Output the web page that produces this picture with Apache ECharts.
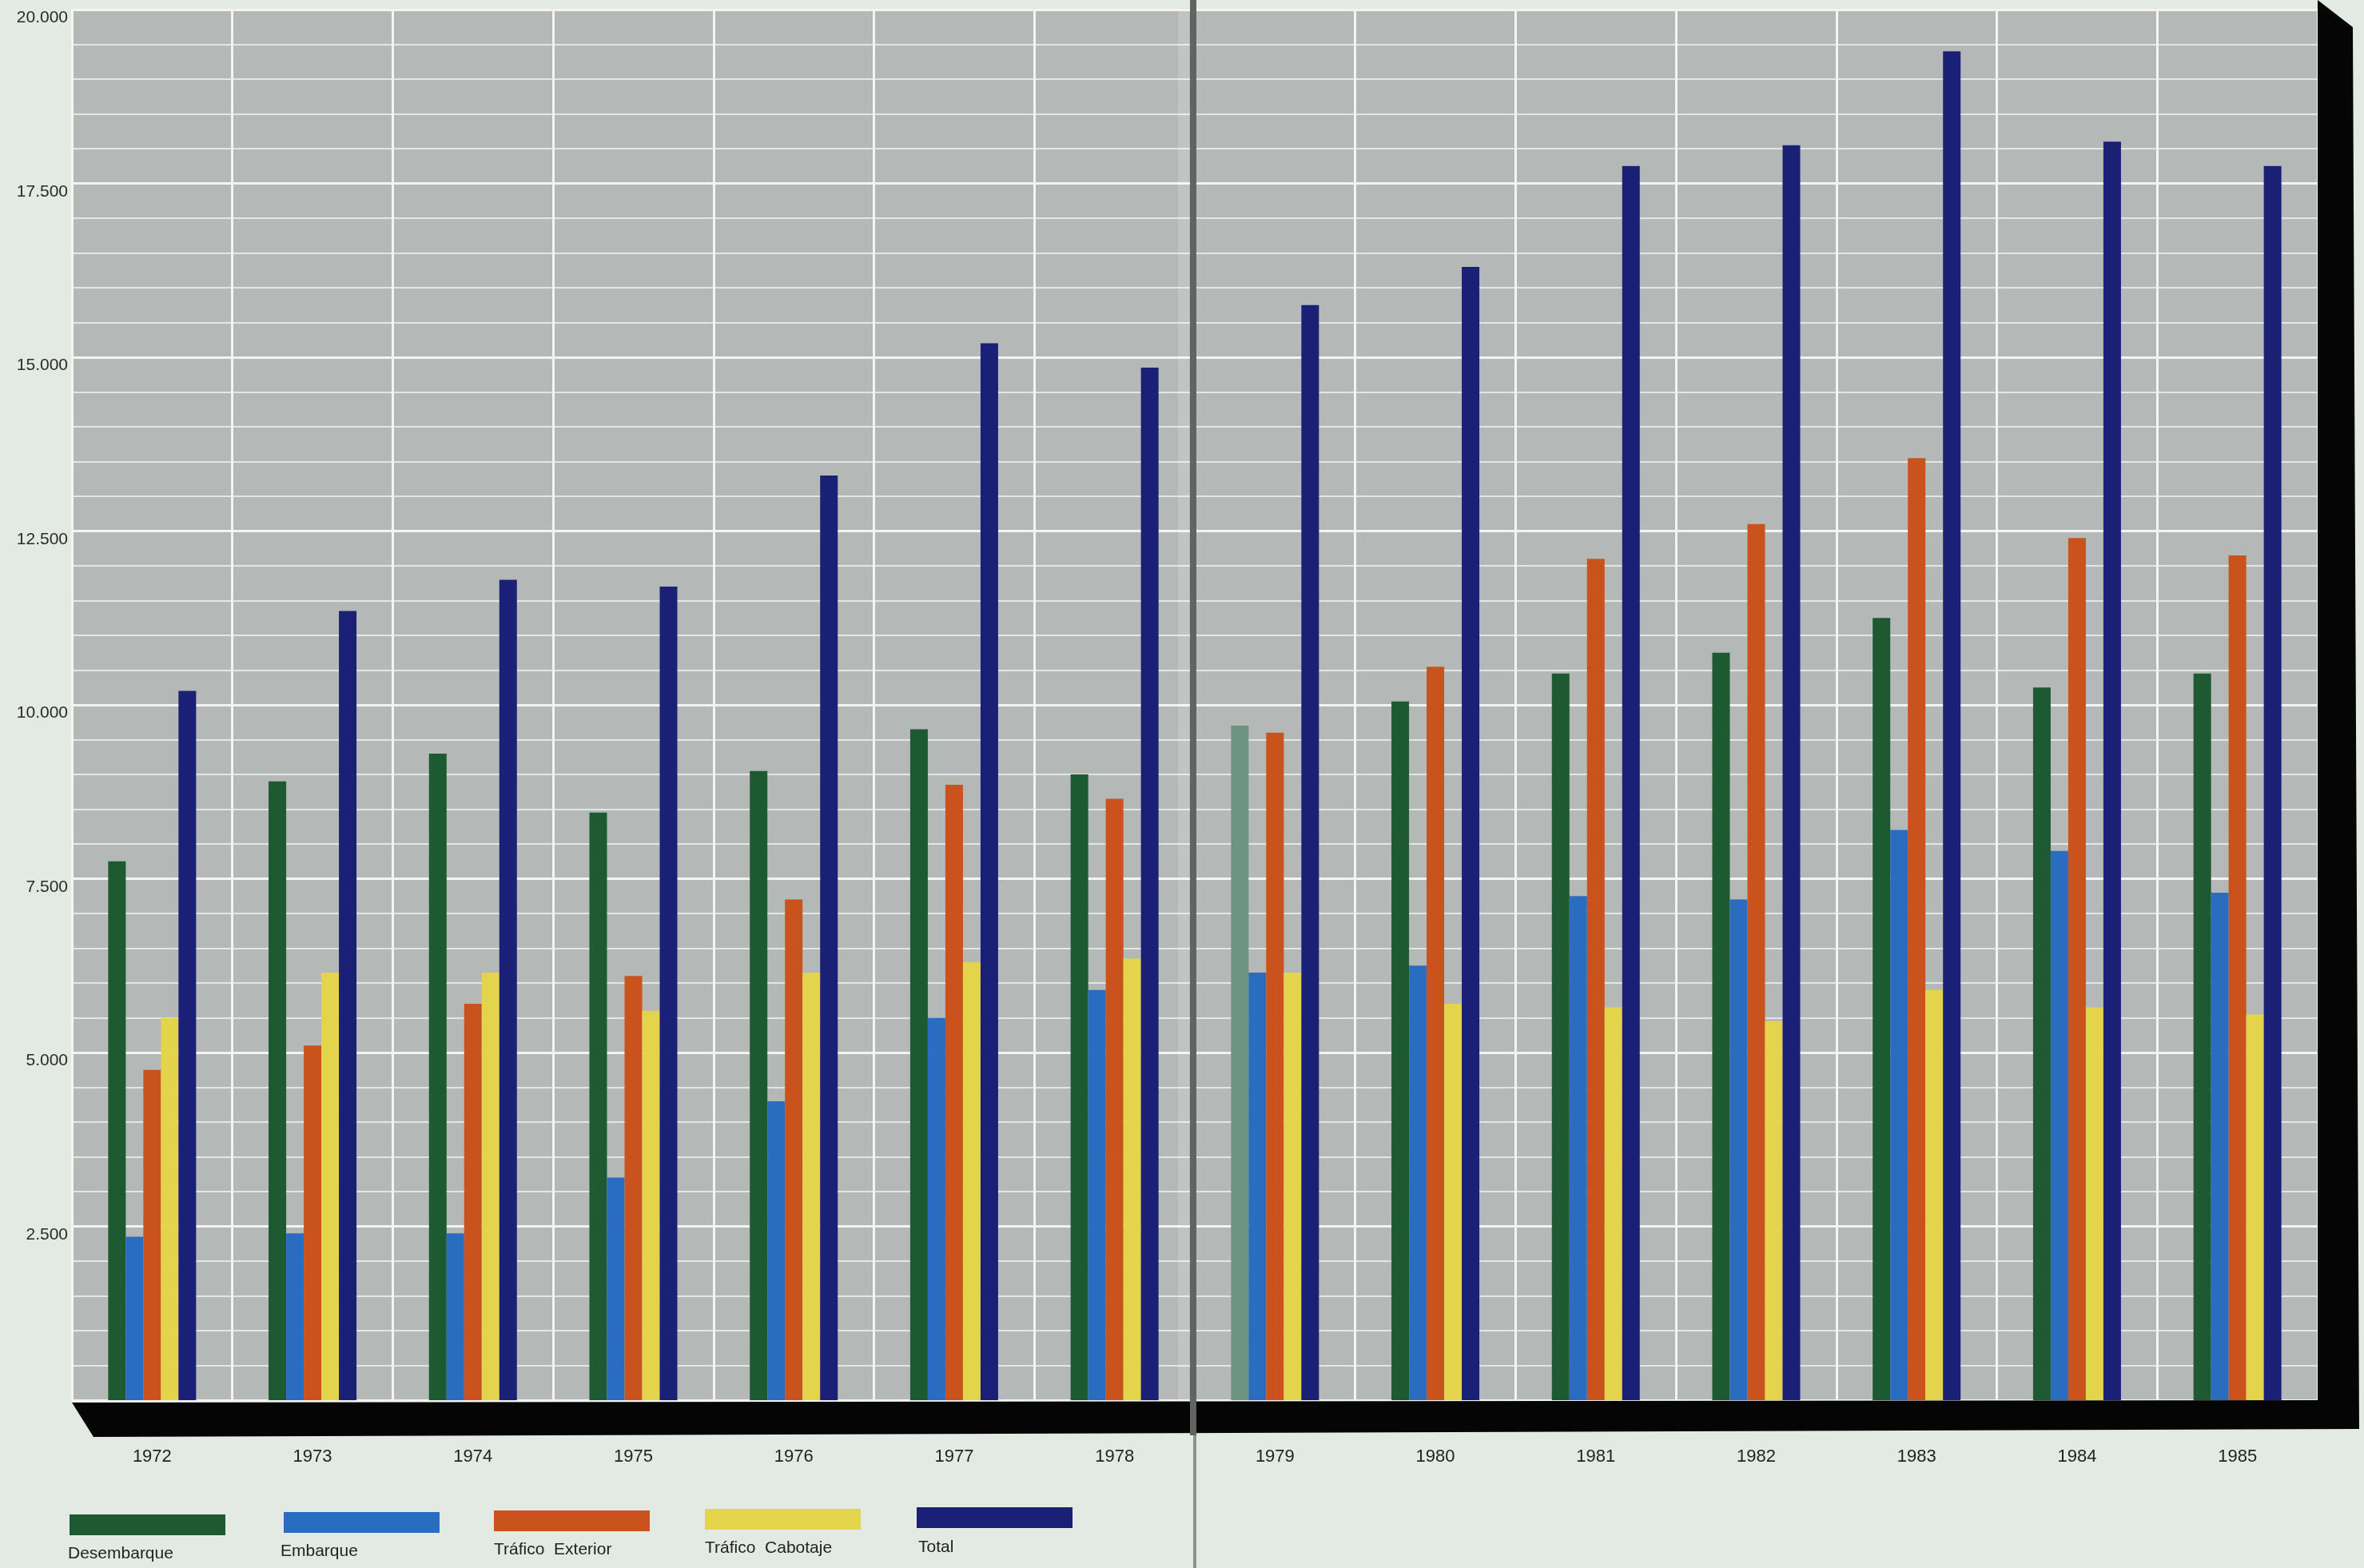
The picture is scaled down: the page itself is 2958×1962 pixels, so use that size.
<!DOCTYPE html>
<html>
<head>
<meta charset="utf-8">
<script src="https://cdn.jsdelivr.net/npm/echarts@6/dist/echarts.min.js"></script>
<style>
html,body{margin:0;padding:0;background:#e2eae3;}
#c{width:2958px;height:1962px;}
</style>
</head>
<body>
<div id="c"></div>
<script>
// ---- data ----
const years = ['1972','1973','1974','1975','1976','1977','1978','1979','1980','1981','1982','1983','1984','1985'];
const desembarque     = [7750, 8900, 9300, 8450, 9050, 9650, 9000, 9700, 10050, 10450, 10750, 11250, 10250, 10450];
const embarque        = [2350, 2400, 2400, 3200, 4300, 5500, 5900, 6150, 6250, 7250, 7200, 8200, 7900, 7300];
const traficoExterior = [4750, 5100, 5700, 6100, 7200, 8850, 8650, 9600, 10550, 12100, 12600, 13550, 12400, 12150];
const traficoCabotaje = [5500, 6150, 6150, 5600, 6150, 6300, 6350, 6150, 5700, 5650, 5450, 5900, 5650, 5550];
const total           = [10200, 11350, 11800, 11700, 13300, 15200, 14850, 15750, 16300, 17750, 18050, 19400, 18100, 17750];
const seriesNames = ['Desembarque', 'Embarque', 'Tráfico  Exterior', 'Tráfico  Cabotaje', 'Total'];
const yTickLabels = ['', '2.500', '5.000', '7.500', '10.000', '12.500', '15.000', '17.500', '20.000'];

// ---- layout / style ----
const W = 2958, H = 1962;
const L = 90, R = 2900, T = 12, B = 1752;
const colors = ['#1d5a32', '#2a6cbf', '#c9521d', '#e4d44c', '#1a2075'];
const paper = '#e2eae3';
const legendX = [87, 355, 618, 882, 1147];
const legendY = [1895, 1892, 1890, 1888, 1886];
const legendTextX = [85, 351, 618, 882, 1149];
const legendTextY = [1934, 1931, 1929, 1927, 1926];
const FONT = "'Liberation Sans', Arial, sans-serif";
const NARROW = "'Liberation Sans Narrow', 'Arial Narrow', 'Liberation Sans', Arial, sans-serif";

const chart = echarts.init(document.getElementById('c'), null, {renderer: 'canvas'});

const seriesData = [desembarque, embarque, traficoExterior, traficoCabotaje, total];

const series = seriesData.map((arr, i) => ({
  name: seriesNames[i],
  type: 'bar',
  barWidth: 22,
  barGap: '0%',
  itemStyle: {color: colors[i]},
  data: arr.map((v, j) => (i === 0 && years[j] === '1979')
    ? {value: v, itemStyle: {color: '#6e9383'}}
    : v)
}));

const legends = seriesNames.map((n, i) => ({
  data: [n],
  left: legendX[i],
  top: legendY[i],
  padding: 0,
  itemWidth: 195,
  itemHeight: 26,
  icon: 'rect',
  selectedMode: false,
  formatter: () => '',
  textStyle: {fontSize: 1}
}));

const legendTexts = seriesNames.map((n, i) => ({
  type: 'text',
  left: legendTextX[i],
  top: legendTextY[i],
  style: {text: n, fill: '#222', font: '21px ' + FONT}
}));

const frame = {
  type: 'polygon',
  z: 100,
  shape: {points: [
    [L, B + 3], [L + 27, B + 46], [R + 52, B + 36], [R + 44, 34], [R, 0], [R, B]
  ]},
  style: {fill: '#050505'}
};

const gutter = [
  {type: 'rect', z: 90, shape: {x: 1474, y: T, width: 14, height: B - T}, style: {fill: 'rgba(255,255,255,0.18)'}},
  {type: 'rect', z: 101, shape: {x: 1489, y: 0, width: 8, height: B + 44}, style: {fill: '#60655f'}},
  {type: 'rect', z: 101, shape: {x: 1493, y: B + 44, width: 4, height: H - B - 44}, style: {fill: '#8d928d'}}
];

chart.setOption({
  backgroundColor: paper,
  animation: false,
  color: colors,
  grid: {
    left: L, right: W - R, top: T, bottom: H - B,
    show: true, backgroundColor: '#b4b8b6', borderWidth: 0
  },
  legend: legends,
  xAxis: {
    type: 'category',
    data: years,
    boundaryGap: true,
    axisLine: {show: false},
    axisTick: {show: false},
    axisLabel: {margin: 60, fontSize: 22, color: '#222', fontFamily: NARROW},
    splitLine: {show: true, lineStyle: {color: '#f3f4f3', width: 3}}
  },
  yAxis: {
    type: 'value',
    min: 0,
    max: 20000,
    interval: 2500,
    axisLine: {show: false},
    axisTick: {show: false},
    axisLabel: {
      formatter: v => yTickLabels[Math.round(v / 2500)],
      fontSize: 21, color: '#2a2a2a', margin: 5, fontFamily: FONT,
      verticalAlign: 'top'
    },
    splitLine: {show: true, lineStyle: {color: '#f2f3f2', width: 3}},
    minorTick: {show: false, splitNumber: 5},
    minorSplitLine: {show: true, lineStyle: {color: '#e3e7e4', width: 2}}
  },
  graphic: [frame].concat(gutter, legendTexts),
  series: series
});
</script>
</body>
</html>
